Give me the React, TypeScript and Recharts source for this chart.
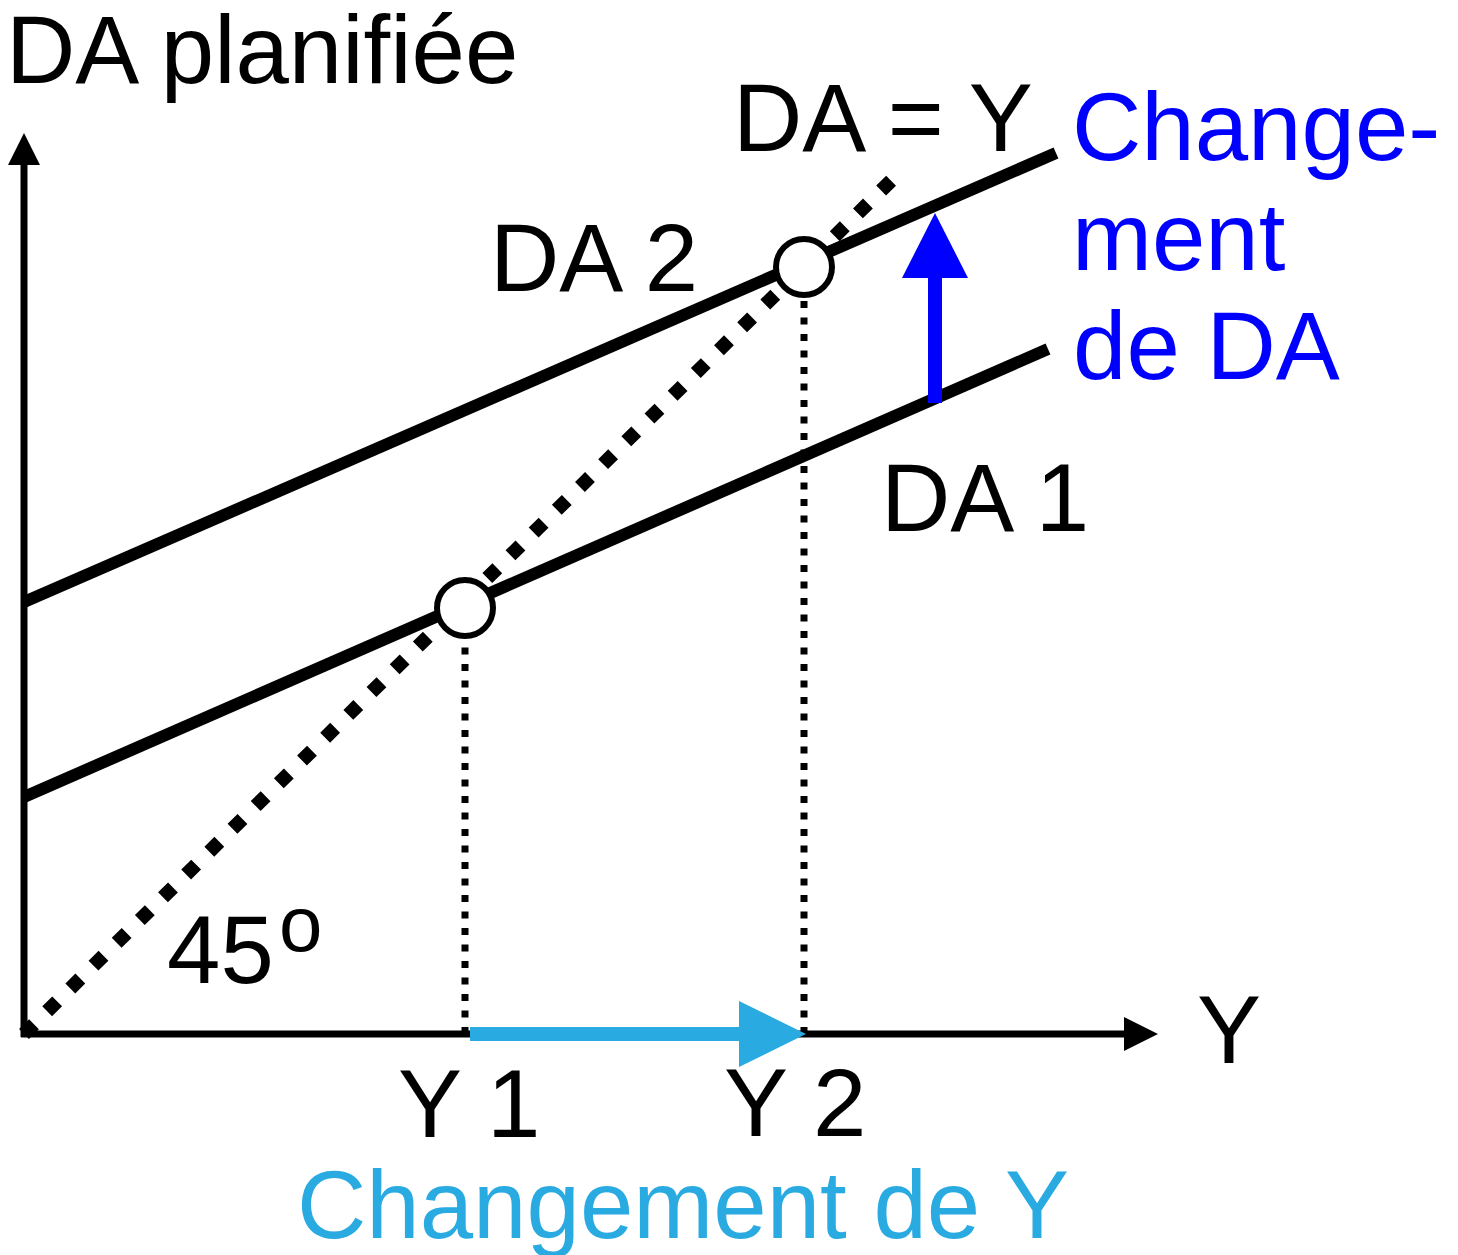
import React from 'react';
import { ComposedChart, Line, Scatter, XAxis, YAxis, ReferenceLine } from 'recharts';

// Unités : 1 unité = 10 px, origine au croisement des axes.
// Droite DA 1 (avant le changement)
const da1Revenu = [0, 102.4];
const da1Valeur = [23.7, 68.5];
// Droite DA 2 (après le changement)
const da2Revenu = [0, 103.2];
const da2Valeur = [43.2, 88.1];
// Droite à 45° : DA = Y
const droite45Revenu = [0, 87.6];
const droite45Valeur = [0, 86.2];
// Équilibres Y 1 et Y 2
const equilibreRevenu = [44.1, 78.0];
const equilibreDA = [42.6, 76.7];
// Flèches de changement
const changementY = [44.6, 78.2];
const changementDAx = 91.1;
const changementDA = [63.1, 82.1];
// Extrémités des axes
const axeXFin = 113.4;
const axeYFin = 90.1;

const toPoints = (xs: number[], ys: number[]) => xs.map((x, i) => ({ y: x, da: ys[i] }));

const da1 = toPoints(da1Revenu, da1Valeur);
const da2 = toPoints(da2Revenu, da2Valeur);
const droite45 = toPoints(droite45Revenu, droite45Valeur);
const equilibres = toPoints(equilibreRevenu, equilibreDA);

const FONT = "'Liberation Sans', Arial, Helvetica, sans-serif";
const BLUE = '#0000FF';
const CYAN = '#29ABE2';

// ReferenceLine shape: trait + pointe de flèche au bout (x2, y2)
const arrowShape = (color: string, width: number, headLen: number, headHalf: number) =>
  (props: any) => {
    const x1 = Number(props.x1), y1 = Number(props.y1), x2 = Number(props.x2), y2 = Number(props.y2);
    const len = Math.hypot(x2 - x1, y2 - y1) || 1;
    const ux = (x2 - x1) / len, uy = (y2 - y1) / len;
    const bx = x2 - ux * headLen, by = y2 - uy * headLen;
    const px = -uy * headHalf, py = ux * headHalf;
    return (
      <g>
        <line x1={x1} y1={y1} x2={bx + ux * 1} y2={by + uy * 1} stroke={color} strokeWidth={width} />
        <polygon points={`${x2},${y2} ${bx + px},${by + py} ${bx - px},${by - py}`} fill={color} />
      </g>
    );
  };

const Circle = (props: any) => (
  <circle cx={props.cx} cy={props.cy} r={28} fill="#fff" stroke="#000" strokeWidth={6} />
);

export default function App() {
  const txt = { fontFamily: FONT, fontSize: 96 };
  return (
    <div style={{ position: 'absolute', left: 0, top: 0, width: 1458, height: 1255, background: '#fff' }}>
      <ComposedChart width={1458} height={1255} margin={{ top: 0, right: 0, bottom: 0, left: 0 }}>
        <XAxis dataKey="y" type="number" domain={[-2.4, 143.4]} allowDataOverflow hide />
        <YAxis dataKey="da" type="number" domain={[-22.1, 103.4]} allowDataOverflow hide />

        {/* pointillés verticaux vers Y 1 et Y 2 */}
        {equilibreRevenu.map((x, i) => (
          <Line
            key={`v${i}`}
            data={[{ y: x, da: 0 }, { y: x, da: equilibreDA[i] }]}
            dataKey="da"
            stroke="#000"
            strokeWidth={7}
            strokeDasharray="7 9.5"
            dot={false}
            activeDot={false}
            isAnimationActive={false}
          />
        ))}

        {/* axes */}
        <ReferenceLine
          segment={[{ x: -0.3, y: 0 }, { x: axeXFin, y: 0 }]}
          shape={arrowShape('#000', 7, 34, 17)}
        />
        <ReferenceLine
          segment={[{ x: 0, y: -0.3 }, { x: 0, y: axeYFin }]}
          shape={arrowShape('#000', 7, 32, 16)}
        />

        <Line data={droite45} dataKey="da" stroke="#000" strokeWidth={14} strokeDasharray="14 18.5" dot={false} activeDot={false} isAnimationActive={false} />
        <Line data={da1} dataKey="da" stroke="#000" strokeWidth={12} dot={false} activeDot={false} isAnimationActive={false} />
        <Line data={da2} dataKey="da" stroke="#000" strokeWidth={12} dot={false} activeDot={false} isAnimationActive={false} />

        <Scatter data={equilibres} dataKey="da" shape={Circle} isAnimationActive={false} />

        {/* changement de Y */}
        <ReferenceLine
          segment={[{ x: changementY[0], y: 0 }, { x: changementY[1], y: 0 }]}
          shape={arrowShape(CYAN, 14, 67, 33)}
        />
        {/* changement de DA */}
        <ReferenceLine
          segment={[{ x: changementDAx, y: changementDA[0] }, { x: changementDAx, y: changementDA[1] }]}
          shape={arrowShape(BLUE, 14, 65, 33)}
        />

        <text x={6} y={83} {...txt}>DA planifiée</text>
        <text x={733} y={151} {...txt}>DA = Y</text>
        <text x={490} y={291} {...txt}>DA 2</text>
        <text x={881} y={531} {...txt}>DA 1</text>
        <text x={1072} y={160} {...txt} fill={BLUE}>Change-</text>
        <text x={1072} y={270} {...txt} fill={BLUE}>ment</text>
        <text x={1073} y={379} {...txt} fill={BLUE}>de DA</text>
        <text x={167} y={983} {...txt}>45</text>
        <text x={279} y={951} {...txt} fontSize={78}>o</text>
        <text x={1197} y={1063} {...txt}>Y</text>
        <text x={398} y={1137} {...txt}>Y 1</text>
        <text x={724} y={1136} {...txt}>Y 2</text>
        <text x={297} y={1238} {...txt} fill={CYAN}>Changement de Y</text>
      </ComposedChart>
    </div>
  );
}
